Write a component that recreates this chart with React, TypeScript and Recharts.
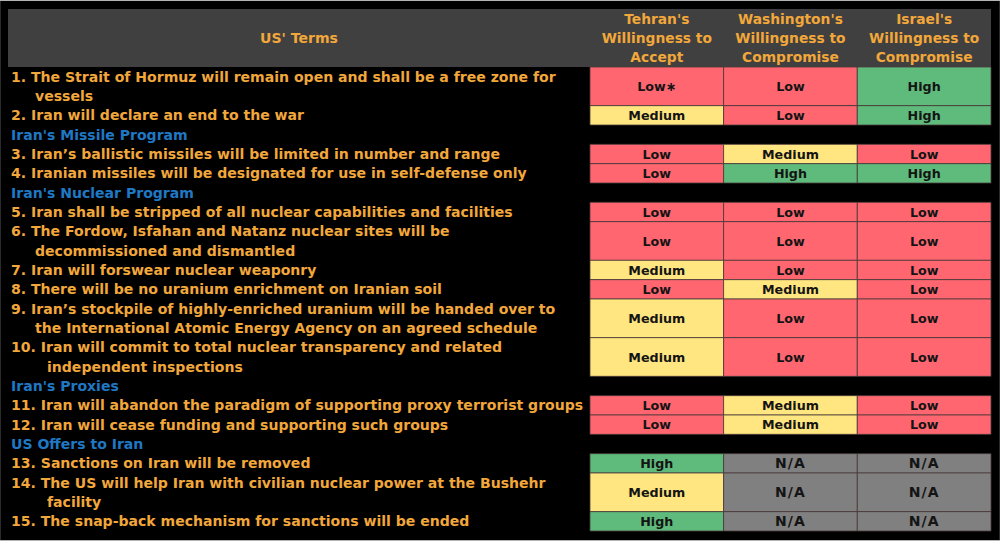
import React from 'react';
import { ComposedChart, XAxis, YAxis, Scatter, ReferenceArea } from 'recharts';

const WIDTH = 1000;
const HEIGHT = 541;
const ORANGE = '#f2a73b';
const BLUE = '#1f78c4';
const INK = '#141414';

const headerTitle = "US' Terms";
const columnHeaders = [
  ["Tehran's", 'Willingness to', 'Accept'],
  ["Washington's", 'Willingness to', 'Compromise'],
  ["Israel's", 'Willingness to', 'Compromise'],
];

// One entry per table row: its text lines. Rows with no ratings are section headings.
const termLines = [
  ['1. The Strait of Hormuz will remain open and shall be a free zone for', 'vessels'],
  ['2. Iran will declare an end to the war'],
  ["Iran's Missile Program"],
  ['3. Iran’s ballistic missiles will be limited in number and range'],
  ['4. Iranian missiles will be designated for use in self-defense only'],
  ["Iran's Nuclear Program"],
  ['5. Iran shall be stripped of all nuclear capabilities and facilities'],
  ['6. The Fordow, Isfahan and Natanz nuclear sites will be', 'decommissioned and dismantled'],
  ['7. Iran will forswear nuclear weaponry'],
  ['8. There will be no uranium enrichment on Iranian soil'],
  ['9. Iran’s stockpile of highly-enriched uranium will be handed over to', 'the International Atomic Energy Agency on an agreed schedule'],
  ['10. Iran will commit to total nuclear transparency and related', 'independent inspections'],
  ["Iran's Proxies"],
  ['11. Iran will abandon the paradigm of supporting proxy terrorist groups'],
  ['12. Iran will cease funding and supporting such groups'],
  ['US Offers to Iran'],
  ['13. Sanctions on Iran will be removed'],
  ['14. The US will help Iran with civilian nuclear power at the Bushehr', 'facility'],
  ['15. The snap-back mechanism for sanctions will be ended'],
];

const tehran = ['Low∗', 'Medium', null, 'Low', 'Low', null, 'Low', 'Low', 'Medium', 'Low', 'Medium', 'Medium', null, 'Low', 'Low', null, 'High', 'Medium', 'High'];
const washington = ['Low', 'Low', null, 'Medium', 'High', null, 'Low', 'Low', 'Low', 'Medium', 'Low', 'Low', null, 'Medium', 'Medium', null, 'N/A', 'N/A', 'N/A'];
const israel = ['High', 'High', null, 'Low', 'High', null, 'Low', 'Low', 'Low', 'Low', 'Low', 'Low', null, 'Low', 'Low', null, 'N/A', 'N/A', 'N/A'];

const ratingFill: Record<string, string> = {
  Low: '#ff6670',
  Medium: '#ffe680',
  High: '#5fbb7c',
  'N/A': '#808080',
};

const X_TABLE_LEFT = 8;
const X_TABLE_RIGHT = 991;
const X_EDGES = [590, 723.6, 857.3, 991];
const X_TEXT = 11;
const HEADER_LINES = 3;

const indentFor = (row: string) => (row.startsWith('10.') || row.startsWith('14.') ? 36 : 24);

let cursor = 0;
const rows = termLines.map((lines, i) => {
  const r = { lines, top: cursor, bottom: cursor + lines.length, ratings: [tehran[i], washington[i], israel[i]] };
  cursor += lines.length;
  return r;
});
const TOTAL_LINES = cursor;

const cells = rows.flatMap((r) =>
  r.ratings.flatMap((rating, c) =>
    rating ? [{ rating, top: r.top, bottom: r.bottom, left: X_EDGES[c], right: X_EDGES[c + 1] }] : [],
  ),
);

const textPoints = rows.flatMap((r) =>
  r.lines.map((line, k) => ({
    x: X_TEXT + (k > 0 ? indentFor(r.lines[0]) : 0),
    y: r.top + k + 0.5,
    text: line,
    fill: r.ratings[0] ? ORANGE : BLUE,
    anchor: 'start',
    size: 14.05,
    spacing: 0,
  })),
);
const headerPoints = [
  { x: (X_TABLE_LEFT + X_EDGES[0]) / 2, y: -1.5, text: headerTitle, fill: ORANGE, anchor: 'middle', size: 14.05, spacing: 0 },
  ...columnHeaders.flatMap((lines, c) =>
    lines.map((line, k) => ({
      x: (X_EDGES[c] + X_EDGES[c + 1]) / 2,
      y: -HEADER_LINES + k + 0.5,
      text: line,
      fill: ORANGE,
      anchor: 'middle',
      size: 13.8,
      spacing: 0,
    })),
  ),
];
const cellPoints = cells.map((c) => ({
  x: (c.left + c.right) / 2,
  y: (c.top + c.bottom) / 2,
  text: c.rating,
  fill: INK,
  anchor: 'middle',
  size: c.rating === 'N/A' ? 14 : 12.7,
  spacing: c.rating === 'N/A' ? 1 : 0,
}));

const TextMark = (props: any) => {
  const { cx, cy, payload } = props;
  return (
    <text
      x={cx}
      y={cy}
      textAnchor={payload.anchor}
      dominantBaseline="central"
      fill={payload.fill}
      fontSize={payload.size}
      fontWeight="bold"
      letterSpacing={payload.spacing}
      fontFamily="'DejaVu Sans', Verdana, sans-serif"
    >
      {payload.text}
    </text>
  );
};

export default function App() {
  return (
    <div style={{ position: 'absolute', left: 0, top: 0, width: WIDTH, height: HEIGHT, background: '#000', overflow: 'hidden' }}>
      <ComposedChart width={WIDTH} height={HEIGHT} margin={{ top: 9, right: 0, bottom: 10, left: 0 }} data={[]}>
        <XAxis type="number" dataKey="x" domain={[0, WIDTH]} hide allowDataOverflow />
        <YAxis type="number" dataKey="y" domain={[-HEADER_LINES, TOTAL_LINES]} reversed hide allowDataOverflow />
        <ReferenceArea x1={X_TABLE_LEFT} x2={X_TABLE_RIGHT} y1={-HEADER_LINES} y2={0} fill="#404040" fillOpacity={1} stroke="none" />
        {cells.map((c, i) => (
          <ReferenceArea
            key={i}
            x1={c.left}
            x2={c.right}
            y1={c.top}
            y2={c.bottom}
            fill={ratingFill[c.rating.replace('∗', '')]}
            fillOpacity={1}
            stroke="#4a3a3a"
            strokeWidth={0.8}
          />
        ))}
        <Scatter name="Terms" data={textPoints} shape={TextMark} isAnimationActive={false} />
        <Scatter name="Headers" data={headerPoints} shape={TextMark} isAnimationActive={false} />
        <Scatter name="Ratings" data={cellPoints} shape={TextMark} isAnimationActive={false} />
      </ComposedChart>
      <div
        style={{
          position: 'absolute',
          inset: 0,
          pointerEvents: 'none',
          boxShadow: 'inset 0 1px 0 #b4b4b4, inset 0 -1px 0 #b4b4b4, inset 1px 0 0 #2a2a2a, inset -1px 0 0 #2a2a2a',
        }}
      />
    </div>
  );
}
